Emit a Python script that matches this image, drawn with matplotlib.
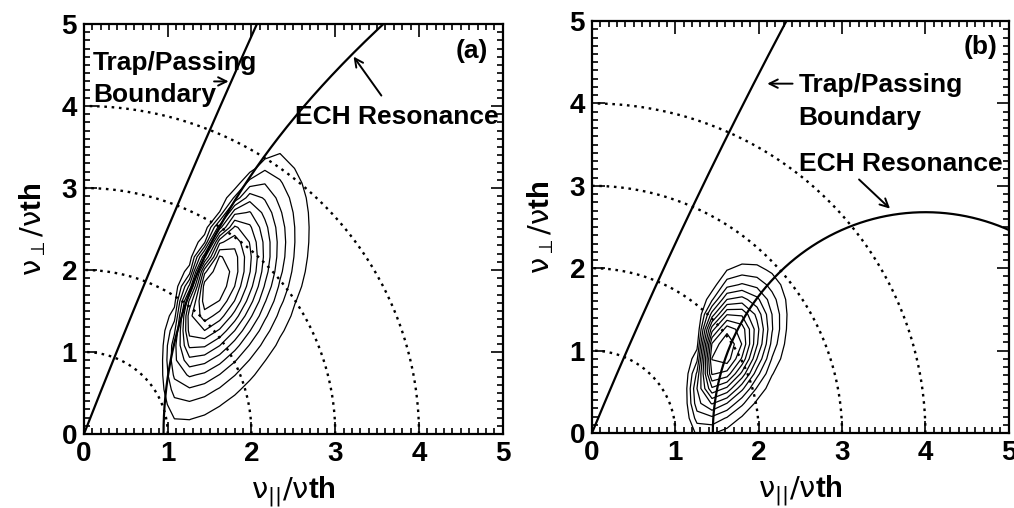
import numpy as np
import matplotlib
matplotlib.use('Agg')
import matplotlib.pyplot as plt
from matplotlib.ticker import MultipleLocator

plt.rcParams['font.family'] = ['Liberation Sans', 'DejaVu Sans']
plt.rcParams['mathtext.fontset'] = 'custom'
plt.rcParams['mathtext.rm'] = 'DejaVu Sans'
plt.rcParams['mathtext.it'] = 'DejaVu Sans'
plt.rcParams['mathtext.bf'] = 'Liberation Sans:bold'

# ── data ─────────────────────────────────────────────────────────────────────
CIRCLE_RADII = [1, 2, 3, 4]
TICKS = [0, 1, 2, 3, 4, 5]

# trap/passing boundary  v_par = a*v_perp + b*v_perp^2
TRAP = {'a': (0.384, 0.0058), 'b': (0.408, 0.0117)}

# ECH resonance: (a) v_par = x0 + c*v_perp^2 ; (b) ellipse centred on (xc, 0)
RES_A_X0, RES_A_C = 0.95, 0.105
RES_B_XC, RES_B_AX, RES_B_AY = 4.0, 2.55, 2.68

# distribution blobs: centre, sigma along/across tilt, tilt (deg), level range
BLOB_A = dict(cx=1.47, cy=1.88, smaj=0.84, smin=0.5, ang=68)
LEV_A = (0.10, 0.92, 11)
BLOB_B = dict(cx=1.57, cy=1.0, smaj=0.54, smin=0.32, ang=64)
LEV_B = (0.12, 0.92, 11)
CUT_B_X0, CUT_B_SLOPE = 1.15, 0.17
GRID_STEP = 0.18

XLABEL = r'$\mathrm{\nu}_{||}/\mathrm{\nu}\mathbf{th}$'
YLABEL = r'$\mathrm{\nu}_{\perp}/\mathrm{\nu}\mathbf{th}$'

TXT = dict(fontsize=19, fontweight='bold', va='center')
ARW = dict(arrowstyle='->,head_length=0.6,head_width=0.3', lw=1.4, color='black')


def blob(X, Y, cx, cy, smaj, smin, ang, xcut, w):
    t = np.deg2rad(ang)
    u = (X - cx) * np.cos(t) + (Y - cy) * np.sin(t)
    v = -(X - cx) * np.sin(t) + (Y - cy) * np.cos(t)
    g = np.exp(-0.5 * (u**2 / smaj**2 + v**2 / smin**2))
    return g / (1 + np.exp(-(X - xcut) / w))


def style_ax(ax):
    ax.set_xlim(0, 5)
    ax.set_ylim(0, 5)
    ax.set_xticks(TICKS)
    ax.set_yticks(TICKS)
    ax.xaxis.set_minor_locator(MultipleLocator(0.1))
    ax.yaxis.set_minor_locator(MultipleLocator(0.1))
    ax.tick_params(which='both', direction='in', top=True, right=True, width=1.2)
    ax.tick_params(which='major', length=9, labelsize=20, pad=5)
    ax.tick_params(which='minor', length=4)
    for lab in ax.get_xticklabels() + ax.get_yticklabels():
        lab.set_fontweight('bold')
    for s in ax.spines.values():
        s.set_linewidth(1.6)
    ax.set_xlabel(XLABEL, fontsize=21, labelpad=5)
    ax.set_ylabel(YLABEL, fontsize=21, labelpad=10)
    th = np.linspace(0, np.pi / 2, 300)
    for r in CIRCLE_RADII:
        ax.plot(r * np.cos(th), r * np.sin(th), color='black', lw=1.7,
                ls=(0, (1.1, 2.0)))


fig = plt.figure(figsize=(10.14, 5.08), dpi=100)
ax_a = fig.add_axes([0.0828, 0.1457, 0.413, 0.807])
ax_b = fig.add_axes([0.5838, 0.1476, 0.411, 0.811])

xg = np.arange(0, 5.001, GRID_STEP)
X, Y = np.meshgrid(xg, xg)
yy = np.linspace(0, 5, 400)

# ── panel (a) ────────────────────────────────────────────────────────────────
style_ax(ax_a)
a, b = TRAP['a']
ax_a.plot(a * yy + b * yy**2, yy, color='black', lw=1.6)
ax_a.plot(RES_A_X0 + RES_A_C * yy**2, yy, color='black', lw=1.6)
Z = blob(X, Y, xcut=RES_A_X0 + RES_A_C * Y**2, w=0.06, **BLOB_A)
lev = np.linspace(LEV_A[0], LEV_A[1], LEV_A[2]) * Z.max()
ax_a.contour(X, Y, Z, levels=lev, colors='black', linewidths=0.9)
ax_a.text(0.11, 4.52, 'Trap/Passing', **TXT)
ax_a.text(0.11, 4.14, 'Boundary', **TXT)
ax_a.annotate('', xy=(1.76, 4.3), xytext=(1.52, 4.3), arrowprops=ARW)
ax_a.text(2.52, 3.86, 'ECH Resonance', **TXT)
ax_a.annotate('', xy=(3.2, 4.63), xytext=(3.57, 4.1), arrowprops=ARW)
ax_a.text(4.82, 4.67, '(a)', ha='right', **TXT)

# ── panel (b) ────────────────────────────────────────────────────────────────
style_ax(ax_b)
a, b = TRAP['b']
ax_b.plot(a * yy + b * yy**2, yy, color='black', lw=1.6)
th = np.linspace(0, np.pi, 400)
ax_b.plot(RES_B_XC - RES_B_AX * np.cos(th), RES_B_AY * np.sin(th),
          color='black', lw=1.6)
Z = blob(X, Y, xcut=CUT_B_X0 + CUT_B_SLOPE * Y, w=0.04, **BLOB_B)
lev = np.linspace(LEV_B[0], LEV_B[1], LEV_B[2]) * Z.max()
ax_b.contour(X, Y, Z, levels=lev, colors='black', linewidths=0.9)
ax_b.text(2.48, 4.22, 'Trap/Passing', **TXT)
ax_b.text(2.48, 3.82, 'Boundary', **TXT)
ax_b.annotate('', xy=(2.07, 4.24), xytext=(2.44, 4.24), arrowprops=ARW)
ax_b.text(2.48, 3.27, 'ECH Resonance', **TXT)
ax_b.annotate('', xy=(3.6, 2.7), xytext=(3.18, 3.1), arrowprops=ARW)
ax_b.text(4.86, 4.69, '(b)', ha='right', **TXT)

fig.savefig('out.png', dpi=100, facecolor='white')
